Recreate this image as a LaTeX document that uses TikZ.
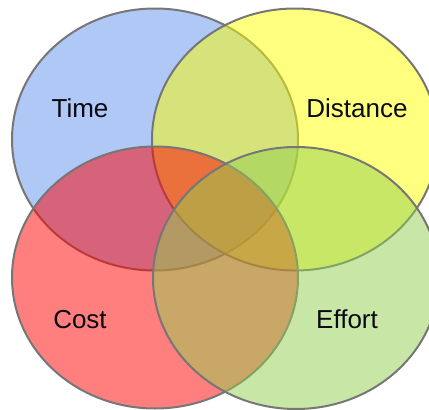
\documentclass[tikz,border=0pt]{standalone}
\usepackage{fontspec}
\setmainfont{Liberation Sans}
\usetikzlibrary{shapes.geometric}

\definecolor{timeblue}{RGB}{95,145,235}
\definecolor{distyellow}{RGB}{255,255,0}
\definecolor{costred}{RGB}{255,0,0}
\definecolor{effortgreen}{RGB}{146,208,80}
\definecolor{rim}{RGB}{118,118,118}
\definecolor{labeltext}{RGB}{10,10,20}

\tikzset{
  set/.style={ellipse, inner sep=0pt, outer sep=0pt,
    minimum width=286pt, minimum height=262pt,
    draw=rim, line width=2pt, fill opacity=0.5},
  setlabel/.style={anchor=base, inner sep=0pt, text=labeltext,
    font=\fontsize{26}{30}\selectfont}
}

\begin{document}
\begin{tikzpicture}[x=1pt, y=-1pt]
  \useasboundingbox (0,0) rectangle (429,410);

  % the four overlapping sets, drawn in stacking order
  \node[set, fill=timeblue]    (time)     at (155,139.5) {};
  \node[set, fill=distyellow]  (distance) at (295,139.5) {};
  \node[set, fill=costred]     (cost)     at (155,277.5) {};
  \node[set, fill=effortgreen] (effort)   at (296,278) {};

  % labels
  \node[setlabel] (timelabel)     at (80,117)  {Time};
  \node[setlabel] (distancelabel) at (357,117) {Distance};
  \node[setlabel] (costlabel)     at (80,328)  {Cost};
  \node[setlabel] (effortlabel)   at (347,328) {Effort};
\end{tikzpicture}
\end{document}
